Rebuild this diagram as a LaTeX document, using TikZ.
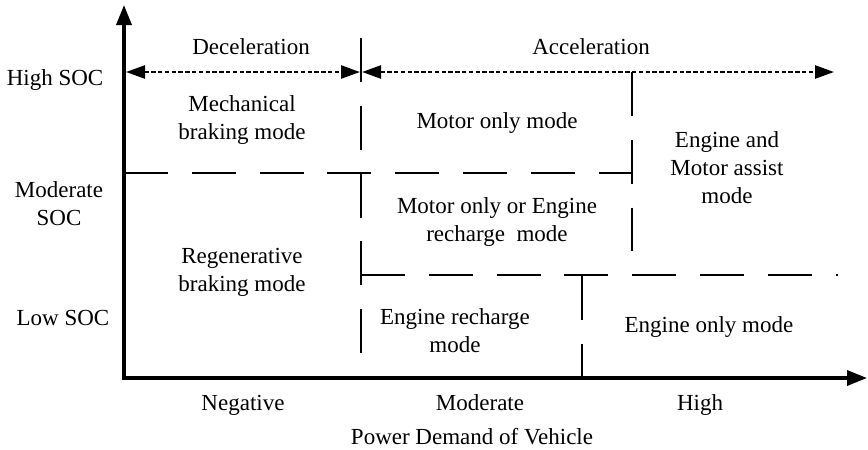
\documentclass[tikz,border=0pt]{standalone}
\usepackage{fontspec}
\setmainfont{Liberation Serif}
\usetikzlibrary{arrows.meta}
\tikzset{
        mode_text/.style={align=center, inner sep=0pt},
        demand_text/.style={mode_text, anchor=base},
        axis_line/.style={line width=1.7pt, draw=black,
                          {Triangle[length=10pt, width=7.5pt]}-{Triangle[length=10pt, width=7.5pt]}},
        bound_line/.style={line width=1.4pt, draw=black, dash pattern=on 22pt off 11.9pt},
        range_arrow/.style={line width=1.2pt, draw=black, dash pattern=on 2.2pt off 1.2pt,
                            {Triangle[length=9.5pt, width=6.5pt]}-{Triangle[length=9.5pt, width=6.5pt]}}
    }

\begin{document}
\begin{tikzpicture}[x=0.5pt, y=-0.5pt, font=\fontsize{11.5}{14}\selectfont]
    \useasboundingbox (0,0) rectangle (868,450);
    % mode boundaries
    \coordinate (split_top) at (361,38);
    \coordinate (split_bot) at (361,378);
    \coordinate (mid_l) at (124,173);
    \coordinate (mid_r) at (632,173);
    \coordinate (assist_top) at (632,72);
    \coordinate (assist_bot) at (632,251);
    \coordinate (low_l) at (361,275);
    \coordinate (low_r) at (838,275);
    \coordinate (only_top) at (582,276);
    \coordinate (only_bot) at (582,378);
    \draw[bound_line] (split_top) -- (split_bot);
    \draw[bound_line] (mid_l) -- (mid_r);
    \draw[bound_line] (assist_top) -- (assist_bot);
    \draw[bound_line] (low_l) -- (low_r);
    \draw[bound_line] (only_top) -- (only_bot);
    % deceleration / acceleration
    \coordinate (dec_l) at (126,72);
    \coordinate (dec_r) at (360,72);
    \coordinate (acc_l) at (362,72);
    \coordinate (acc_r) at (834,72);
    \draw[range_arrow] (dec_l) -- (dec_r);
    \draw[range_arrow] (acc_l) -- (acc_r);
    % axes
    \coordinate (origin) at (124,378);
    \coordinate (y_tip) at (124,5);
    \coordinate (x_tip) at (867,378);
    \draw[axis_line] (y_tip) -- (origin) -- (x_tip);
    % range labels
    \node (dec_text) at (251,47) {Deceleration};
    \node (acc_text) at (591,47) {Acceleration};
    % SOC levels
    \node[mode_text] (soc_high) at (55,80) {High SOC};
    \node[mode_text] (soc_mod) at (59,204) {Moderate\\SOC};
    \node[mode_text] (soc_low) at (63,318) {Low SOC};
    % modes
    \node[mode_text] (mech_brake) at (242,120) {Mechanical\\braking mode};
    \node[mode_text] (motor_only) at (497,123) {Motor only mode};
    \node[mode_text] (motor_assist) at (727,168) {Engine and\\Motor assist\\mode};
    \node[mode_text] (motor_or_eng) at (497,222) {Motor only or Engine\\recharge~ mode};
    \node[mode_text] (regen_brake) at (242,272) {Regenerative\\braking mode};
    \node[mode_text] (eng_recharge) at (455,331) {Engine recharge\\mode};
    \node[mode_text] (eng_only) at (709,327) {Engine only mode};
    % power demand
    \node[demand_text] (pd_neg) at (243,410) {Negative};
    \node[demand_text] (pd_mod) at (480,410) {Moderate};
    \node[demand_text] (pd_high) at (700,410) {High};
    \node[mode_text] (pd_title) at (472,437) {Power Demand of Vehicle};
\end{tikzpicture}
\end{document}
